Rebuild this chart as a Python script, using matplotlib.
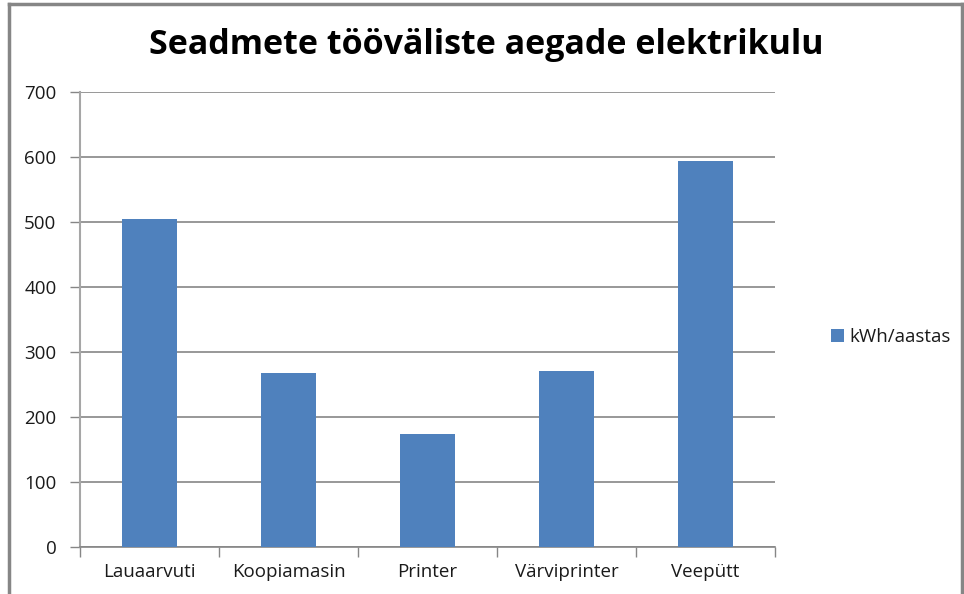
import matplotlib.pyplot as plt
import numpy as np
from matplotlib.lines import Line2D

# data
seadmed = ['Lauaarvuti', 'Koopiamasin', 'Printer', 'Värviprinter', 'Veepütt']
kwh = [504, 268, 174, 271, 594]
series_name = 'kWh/aastas'
y_ticks = [0, 100, 200, 300, 400, 500, 600, 700]

plt.rcParams['font.family'] = ['Open Sans', 'DejaVu Sans']

fig = plt.figure(figsize=(9.64, 5.94), dpi=100)
ax = fig.add_axes([80/964, 1 - 546.5/594, 695/964, (546.5 - 92.3)/594])

x = np.arange(len(seadmed))
bars = ax.bar(x, kwh, width=0.4, color='#4F81BD', label=series_name, zorder=3)

ax.set_xlim(-0.5, len(seadmed) - 0.5)
ax.set_ylim(0, 700)
ax.set_yticks(y_ticks)
ax.yaxis.grid(True, color='#868686', linewidth=1.2, zorder=0)

# category labels in the middle, tick marks on the boundaries
ax.set_xticks(np.arange(-0.5, len(seadmed)), labels=[''] * (len(seadmed) + 1))
ax.set_xticks(x, labels=seadmed, minor=True)
ax.tick_params(axis='x', which='major', length=7, width=1, color='#868686', direction='out')
ax.tick_params(axis='x', which='minor', length=0, pad=12, labelsize=13.5, labelcolor='#1a1a1a')
ax.tick_params(axis='y', length=7, width=1, color='#868686', pad=10, labelsize=13.5, labelcolor='#1a1a1a')

for side in ['top', 'right']:
    ax.spines[side].set_visible(False)
ax.spines['left'].set_color('#a6a6a6')
ax.spines['left'].set_linewidth(1.5)
ax.spines['bottom'].set_color('#868686')
ax.spines['bottom'].set_linewidth(1.2)

fig.text(486/964, 1 - 45/594, 'Seadmete tööväliste aegade elektrikulu',
         ha='center', va='center', fontsize=24.5, fontweight='bold')

ax.legend(loc='center left', bbox_to_anchor=(831/964, 1 - 337/594), bbox_transform=fig.transFigure,
          frameon=False, fontsize=13.5, handlelength=0.7, handleheight=0.7, handletextpad=0.3,
          borderaxespad=0, borderpad=0, labelcolor='#1a1a1a')

# chart frame
for xs, ys in [([9, 9], [4, 600]), ([9, 962], [4, 4]), ([962, 962], [4, 600])]:
    fig.add_artist(Line2D(np.array(xs)/964, 1 - np.array(ys)/594, color='#868686', linewidth=2.5,
                          transform=fig.transFigure))

fig.savefig('out.png', dpi=100)
